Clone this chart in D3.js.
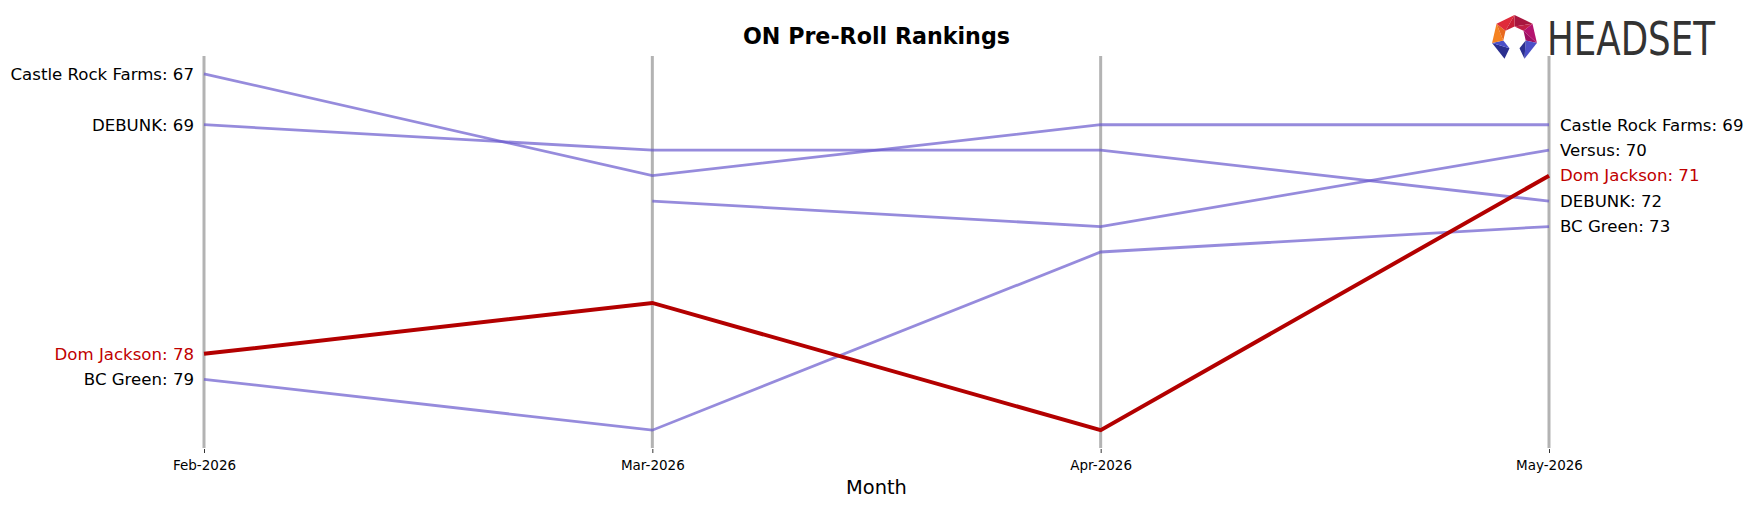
<!DOCTYPE html>
<html>
<head>
<meta charset="utf-8">
<script src="https://cdn.jsdelivr.net/npm/d3@7"></script>
<style>
  html, body { margin: 0; padding: 0; background: #fff; }
  svg { display: block; font-family: "DejaVu Sans", sans-serif; }
</style>
</head>
<body>
<div id="chart"></div>
<script>
// chart data
var months = ["Feb-2026", "Mar-2026", "Apr-2026", "May-2026"];
var brands = ["Castle Rock Farms", "DEBUNK", "Dom Jackson", "BC Green", "Versus"];
var castleRockFarms = [67, 71, 69, 69];
var debunk = [69, 70, 70, 72];
var domJackson = [78, 76, 81, 71];
var bcGreen = [79, 81, 74, 73];
var versus = [null, 72, 73, 70];
var highlight = "Dom Jackson";
var rankLimits = [66.3, 81.7];

var ranks = [castleRockFarms, debunk, domJackson, bcGreen, versus];
var series = brands.map(function(b, i) {
  return { name: b, values: ranks[i].map(function(r, j) { return { m: months[j], r: r }; }) };
});

var width = 1753, height = 507;
var plotTop = 56, plotBottom = 448, plotLeft = 204, plotRight = 1549;

var purple = "#6a5acd", red = "#b30000", labelRed = "#c00000";

var svg = d3.select("#chart")
  .append("svg")
    .attr("width", width)
    .attr("height", height);

var x = d3.scalePoint()
    .domain(months)
    .range([plotLeft, plotRight]);

var y = d3.scaleLinear()
    .domain(rankLimits)
    .range([plotTop, plotBottom]);

// grey month axes
svg.append("g")
  .selectAll("line")
  .data(months)
  .enter()
  .append("line")
    .attr("x1", function(d) { return x(d); })
    .attr("x2", function(d) { return x(d); })
    .attr("y1", plotTop)
    .attr("y2", plotBottom)
    .style("stroke", "#b3b3b3")
    .style("stroke-width", 3);

// x axis with ticks + labels
var xAxis = svg.append("g")
    .attr("transform", "translate(0," + (plotBottom + 1) + ")")
    .call(d3.axisBottom(x).tickSize(4).tickPadding(7));
xAxis.select(".domain").remove();
xAxis.selectAll(".tick line").style("stroke", "#000").style("stroke-width", 0.8);
xAxis.selectAll(".tick text")
    .style("font-family", "DejaVu Sans")
    .style("font-size", "13.5px")
    .style("fill", "#000");

svg.append("text")
    .attr("x", (plotLeft + plotRight) / 2)
    .attr("y", 494)
    .attr("text-anchor", "middle")
    .style("font-size", "19.4px")
    .text("Month");

svg.append("text")
    .attr("x", (plotLeft + plotRight) / 2)
    .attr("y", 44)
    .attr("text-anchor", "middle")
    .style("font-size", "22.2px")
    .style("font-weight", "bold")
    .text("ON Pre-Roll Rankings");

var line = d3.line()
    .defined(function(d) { return d.r != null; })
    .x(function(d) { return x(d.m); })
    .y(function(d) { return y(d.r); });

var ordered = series.filter(function(s) { return s.name != highlight; })
  .concat(series.filter(function(s) { return s.name == highlight; }));

svg.append("g")
  .selectAll("path")
  .data(ordered)
  .enter()
  .append("path")
    .attr("d", function(d) { return line(d.values); })
    .style("fill", "none")
    .style("stroke", function(d) { return d.name == highlight ? red : purple; })
    .style("stroke-opacity", function(d) { return d.name == highlight ? 1 : 0.7; })
    .style("stroke-width", function(d) { return d.name == highlight ? 4 : 2.8; });

// left labels (first month)
var firstM = months[0], lastM = months[months.length - 1];
var last = months.length - 1;
svg.append("g")
  .selectAll("text")
  .data(series.filter(function(s) { return s.values[0].r != null; }))
  .enter()
  .append("text")
    .attr("x", x(firstM) - 10)
    .attr("y", function(d) { return y(d.values[0].r); })
    .attr("dy", "0.35em")
    .attr("text-anchor", "end")
    .style("font-size", "16.6px")
    .style("fill", function(d) { return d.name == highlight ? labelRed : "#000"; })
    .text(function(d) { return d.name + ": " + d.values[0].r; });

// right labels (last month)
svg.append("g")
  .selectAll("text")
  .data(series.filter(function(s) { return s.values[last].r != null; }))
  .enter()
  .append("text")
    .attr("x", x(lastM) + 11)
    .attr("y", function(d) { return y(d.values[last].r); })
    .attr("dy", "0.35em")
    .attr("text-anchor", "start")
    .style("font-size", "16.6px")
    .style("fill", function(d) { return d.name == highlight ? labelRed : "#000"; })
    .text(function(d) { return d.name + ": " + d.values[last].r; });

// HEADSET logo
var logo = svg.append("g");
var cx = 1514.5, cy = 38, R = 23, r0 = 11.5;
function pt(rad, k) {
  var a = (-90 + k * 360 / 7) * Math.PI / 180;
  return [cx + rad * Math.cos(a), cy + rad * Math.sin(a)];
}
// segments clockwise from top; bottom segment left open
var segCols = [
  ["#a8163f", "#c01e45"],   // top -> upper right
  ["#b4136e", "#9c0f63"],   // upper right -> right
  ["#4b4fc8", "#2b2f8f"],   // right -> bottom right
  null,
  ["#2b2f8f", "#4b4fc8"],   // bottom left -> left
  ["#f58220", "#e86a1f"],   // left -> upper left
  ["#e02a3a", "#c81f36"]    // upper left -> top
];
segCols.forEach(function(c, k) {
  if (!c) return;
  var o1 = pt(R, k), o2 = pt(R, k + 1), i1 = pt(r0, k), i2 = pt(r0, k + 1);
  logo.append("polygon").attr("points", [o1, o2, i1].join(" ")).style("fill", c[0]);
  logo.append("polygon").attr("points", [o2, i2, i1].join(" ")).style("fill", c[1]);
});
logo.append("text")
    .attr("x", 1547)
    .attr("y", 55)
    .attr("textLength", 168)
    .attr("lengthAdjust", "spacingAndGlyphs")
    .style("font-family", "'Liberation Sans Narrow', 'DejaVu Sans Condensed', sans-serif")
    .style("font-size", "46px")
    .style("fill", "#333333")
    .text("HEADSET");
</script>
</body>
</html>
